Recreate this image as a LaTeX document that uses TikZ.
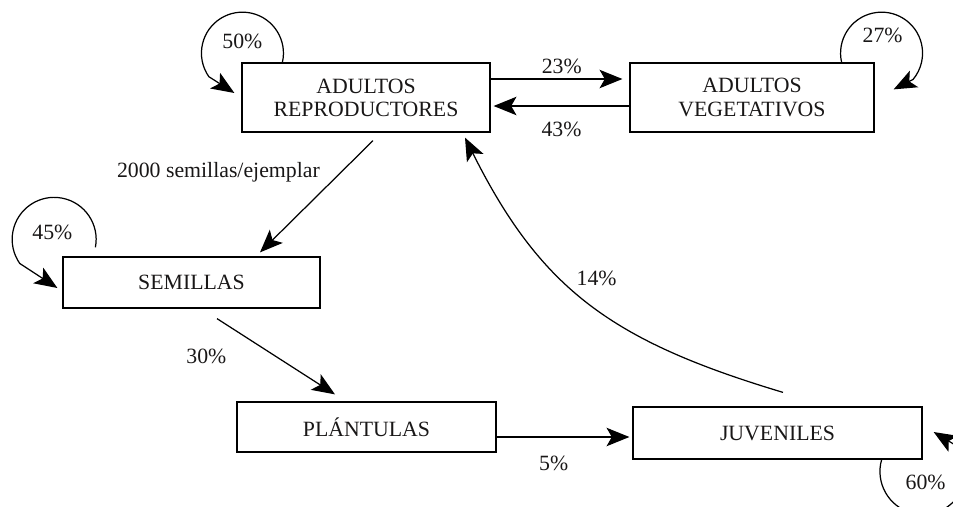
\documentclass[tikz,border=0pt]{standalone}
\usepackage{fontspec}
\setmainfont{Liberation Serif}
\usetikzlibrary{arrows.meta,calc}
\newcommand{\LINEPT}{0.7pt}
\newcommand{\LOOPR}{0.82cm}
\definecolor{myink}{rgb}{0.1,0.09,0.09}

\begin{document}
\begin{tikzpicture}[font=\fontsize{12.4}{13.2}\selectfont, line width=\LINEPT,
	>={Stealth[length=13pt,width=10.5pt,inset=3pt]},
	box/.style={draw, inner sep=0pt, align=center, text=myink},
	lbl/.style={inner sep=0pt, text=myink}]

		\clip (0,0) rectangle (19.06,10.12);

		%% estados
		\node[box, minimum width=4.96cm, minimum height=1.38cm] (rep) at (7.32,8.17) {ADULTOS\\REPRODUCTORES};
		\node[box, minimum width=4.88cm, minimum height=1.38cm] (veg) at (15.04,8.17) {ADULTOS\\VEGETATIVOS};
		\node[box, minimum width=5.14cm, minimum height=1.02cm] (sem) at (3.83,4.47) {SEMILLAS};
		\node[box, minimum width=5.18cm, minimum height=1.00cm] (pla) at (7.33,1.58) {PLÁNTULAS};
		\node[box, minimum width=5.78cm, minimum height=1.04cm] (juv) at (15.55,1.46) {JUVENILES};

		%% transiciones
		\draw[->] ($(rep.east)+(0,0.37)$) -- ($(veg.west)+(-0.14,0.37)$) node [lbl, pos=0.54, above=0.1cm] (TextNode) {23\%};
		\draw[->] ($(veg.west)+(0,-0.17)$) -- ($(rep.east)+(0.06,-0.17)$) node [lbl, midway, below=0.31cm] (TextNode) {43\%};
		\draw[->] ($(rep.south)+(0.14,-0.16)$) -- ($(sem.north)+(1.37,0.08)$) node [lbl, pos=0.28, left=0.42cm] (TextNode) {2000 semillas/ejemplar};
		\draw[->] ($(sem.south)+(0.51,-0.2)$) -- ($(pla.north)+(-0.63,0.14)$) node [lbl, midway, left=0.98cm] (TextNode) {30\%};
		\draw[->] ($(pla.east)+(0,-0.2)$) -- ($(juv.west)+(-0.06,-0.08)$) node [lbl, pos=0.43, below=0.375cm] (TextNode) {5\%};
		\draw[->] ($(juv.north)+(0.11,0.28)$) .. controls +(-3.4,1.02) and +(1.53,-3.06) .. ($(rep.south)+(1.98,-0.1)$) node [lbl, pos=0.6, right=0.3cm] (TextNode) {14\%};

		%% permanencias
		\draw[->] ($(rep.north west)+(0.82,0)$) arc[start angle=-13, end angle=215, radius=\LOOPR] -- ($(rep.west)+(-0.14,0.09)$);
		\node[lbl] (l50) at ($(rep.north west)+(0.02,0.42)$) {50\%};
		\draw[->] ($(veg.north east)+(-0.66,0)$) arc[start angle=193, end angle=-40, radius=\LOOPR] -- ($(veg.north east)+(0.38,-0.54)$);
		\node[lbl] (l27) at ($(veg.north east)+(0.16,0.54)$) {27\%};
		\draw[->] ($(sem.north west)+(0.66,0.18)$) arc[start angle=-11, end angle=215, radius=0.84cm] -- ($(sem.west)+(-0.1,-0.11)$);
		\node[lbl] (l45) at ($(sem.north west)+(-0.2,0.48)$) {45\%};
		\draw[->] ($(juv.south east)+(-0.82,0)$) arc[start angle=164, end angle=395, radius=0.86cm] -- ($(juv.east)+(0.22,0.02)$);
		\node[lbl] (l60) at ($(juv.south east)+(0.06,-0.46)$) {60\%};

	\end{tikzpicture}
\end{document}
